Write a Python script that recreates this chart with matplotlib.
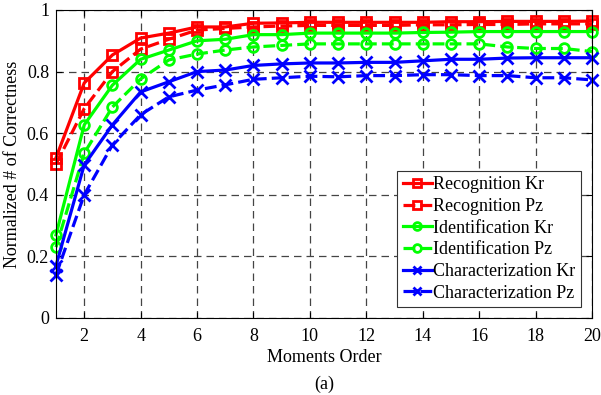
import matplotlib
matplotlib.use("Agg")
import matplotlib.pyplot as plt

plt.rcParams['font.family'] = ['Liberation Serif', 'DejaVu Serif']
plt.rcParams['mathtext.fontset'] = 'stix'

orders = list(range(1, 21))

rec_kr = [0.52, 0.763, 0.854, 0.909, 0.925, 0.945, 0.945, 0.957, 0.958, 0.96,
          0.96, 0.96, 0.96, 0.96, 0.962, 0.962, 0.963, 0.963, 0.963, 0.964]
rec_pz = [0.50, 0.68, 0.80, 0.873, 0.905, 0.935, 0.94, 0.945, 0.948, 0.95,
          0.95, 0.95, 0.95, 0.952, 0.952, 0.953, 0.953, 0.955, 0.955, 0.955]
idn_kr = [0.27, 0.627, 0.756, 0.84, 0.87, 0.90, 0.905, 0.92, 0.92, 0.925,
          0.925, 0.925, 0.925, 0.927, 0.928, 0.93, 0.93, 0.93, 0.93, 0.93]
idn_pz = [0.23, 0.535, 0.685, 0.776, 0.838, 0.857, 0.87, 0.88, 0.885, 0.89,
          0.89, 0.89, 0.89, 0.89, 0.89, 0.89, 0.88, 0.875, 0.875, 0.865]
chr_kr = [0.17, 0.497, 0.627, 0.734, 0.767, 0.80, 0.805, 0.82, 0.825, 0.828,
          0.828, 0.83, 0.83, 0.835, 0.84, 0.84, 0.844, 0.845, 0.845, 0.845]
chr_pz = [0.14, 0.40, 0.562, 0.66, 0.718, 0.74, 0.757, 0.775, 0.78, 0.785,
          0.783, 0.787, 0.787, 0.79, 0.79, 0.787, 0.787, 0.78, 0.78, 0.773]

fig = plt.figure(figsize=(6.01, 3.95), dpi=100)
ax = fig.add_axes([56/601, 1 - 318/395, (592-56)/601, (318-10)/395])

kw = dict(lw=2.3, ms=7, mew=2.0, mfc='none', clip_on=False)
ax.plot(orders, rec_kr, '-', color='red', marker='s', label='Recognition Kr', **kw)
ax.plot(orders, rec_pz, '--', color='red', marker='s', label='Recognition Pz', **kw)
ax.plot(orders, idn_kr, '-', color='#00ff00', marker='o', label='Identification Kr', **kw)
ax.plot(orders, idn_pz, '--', color='#00ff00', marker='o', label='Identification Pz', **kw)
ax.plot(orders, chr_kr, '-', color='blue', marker='x', label='Characterization Kr',
        **dict(kw, ms=8))
ax.plot(orders, chr_pz, '--', color='blue', marker='x', label='Characterization Pz',
        **dict(kw, ms=8))

ax.set_xlim(1, 20)
ax.set_ylim(0, 1)
ax.set_xticks(range(2, 21, 2))
ax.set_yticks([0, 0.2, 0.4, 0.6, 0.8, 1])
ax.set_yticklabels(['0', '0.2', '0.4', '0.6', '0.8', '1'])
ax.tick_params(direction='in', labelsize=13, top=True, right=True, length=4)
ax.tick_params(axis='x', pad=7)
ax.tick_params(axis='y', pad=5)
ax.grid(True, ls=(0, (6, 4)), color='#444444', lw=0.9)
for s in ax.spines.values():
    s.set_linewidth(0.8)

ax.set_xlabel('Moments Order\n(a)', fontsize=13, labelpad=3, linespacing=1.75)
ax.set_ylabel('Normalized # of Correctness', fontsize=13, labelpad=4)

leg = ax.legend(loc='lower right', fontsize=13, fancybox=False, edgecolor='#333333',
                handlelength=1.6, handletextpad=0.1, borderpad=0.3, labelspacing=0.26,
                borderaxespad=0.6, framealpha=1, markerscale=0.8)
leg.get_frame().set_linewidth(0.8)

fig.savefig('out.png', dpi=100)
